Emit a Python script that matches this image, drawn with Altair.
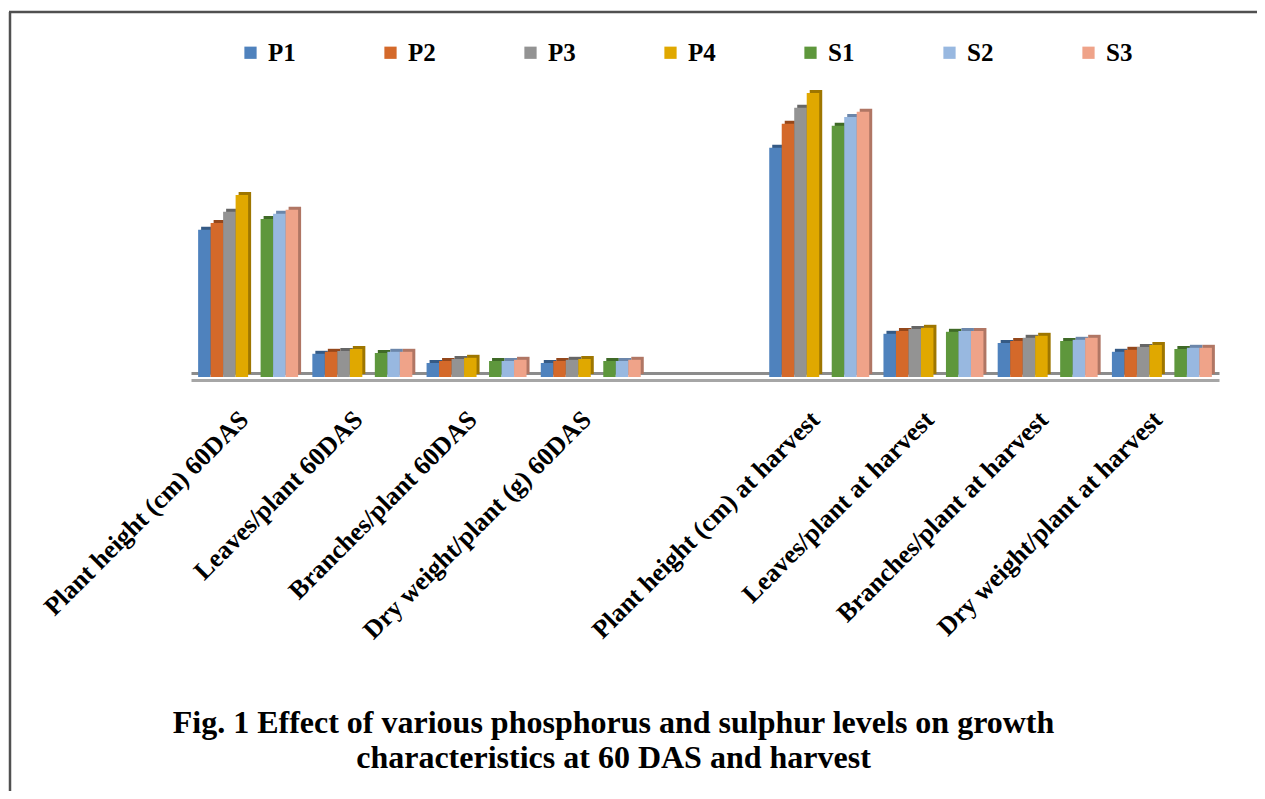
import altair as alt
import pandas as pd

# ---------------- data ----------------
categories = [
    "Plant height (cm) 60DAS", "Leaves/plant 60DAS", "Branches/plant 60DAS",
    "Dry weight/plant (g) 60DAS", " ", "Plant height (cm) at harvest",
    "Leaves/plant at harvest", "Branches/plant at harvest", "Dry weight/plant at harvest",
]
data_categories = [c for c in categories if c.strip()]
series = ["P1", "P2", "P3", "P4", "S1", "S2", "S3"]
slots = ["P1", "P2", "P3", "P4", "gap", "S1", "S2", "S3"]

P1 = [36.8, 5.8, 3.5, 3.5, 57.3, 10.8, 8.5, 6.3]
P2 = [38.5, 6.3, 4.0, 4.0, 63.3, 11.5, 9.0, 6.8]
P3 = [41.3, 6.5, 4.5, 4.3, 67.3, 12.0, 9.8, 7.5]
P4 = [45.5, 7.0, 4.8, 4.5, 71.0, 12.3, 10.3, 8.0]
S1 = [39.5, 6.0, 4.0, 4.0, 62.8, 11.3, 9.0, 7.0]
S2 = [40.8, 6.3, 4.0, 4.0, 65.0, 11.5, 9.3, 7.3]
S3 = [41.8, 6.3, 4.3, 4.3, 66.3, 11.5, 9.8, 7.3]

front_colors = ["#4F82BD", "#D4692A", "#939393", "#E0A800", "#5E973C", "#98B8E0", "#EFA389"]
# side/top shading, one per slot (gap slot unused)
side_colors = ["#355A85", "#94471B", "#666666", "#9E7600", "#FFFFFF", "#3F6A27", "#6B86AA", "#B07664"]

title_lines = [
    "Fig. 1 Effect of various phosphorus and sulphur levels on growth",
    "characteristics at 60 DAS and harvest",
]

values = {"P1": P1, "P2": P2, "P3": P3, "P4": P4, "S1": S1, "S2": S2, "S3": S3}
rows = []
for s in series:
    for c, v in zip(data_categories, values[s]):
        rows.append({"category": c, "series": s, "value": v})
df = pd.DataFrame(rows)
one = pd.DataFrame({"k": [0]})

# ---------------- chart ----------------
W, H = 1028, 300
FONT = "Liberation Serif"
BAND = W / len(categories)
DEPTH = 3

x_scale = alt.Scale(domain=categories, paddingInner=0, paddingOuter=0)
y_scale = alt.Scale(domain=[0, 75])

x_enc = alt.X(
    "category:N", scale=x_scale,
    axis=alt.Axis(
        title=title_lines, titleFont=FONT, titleFontWeight="bold", titleFontSize=32,
        titleColor="black", titleLineHeight=35, titleX=422, titleY=327,
        titleAlign="center", titleBaseline="top", titleLimit=1200,
        labelAngle=-45, labelAlign="right", labelBaseline="top",
        labelPadding=26, labelOffset=-13, offset=3, ticks=False, domain=True,
        domainColor="#A6A6A6", domainWidth=3, labelFont=FONT,
        labelFontWeight="bold", labelFontSize=26, labelColor="black",
        labelLimit=500, labelOverlap=False, grid=False,
    ),
)
y_front = alt.Y(
    "value:Q", scale=y_scale,
    axis=alt.Axis(
        title=None, labels=False, ticks=False, domain=False, grid=True,
        values=[1], gridColor="#8C8C8C", gridWidth=3,
    ),
)
y_side = alt.Y("value:Q", scale=y_scale)

base = alt.Chart(df)

side = base.mark_bar(yOffset=-DEPTH).encode(
    x=x_enc,
    xOffset=alt.XOffset(
        "series:N",
        scale=alt.Scale(domain=slots, paddingInner=0, paddingOuter=0.57,
                        range=[DEPTH, BAND + DEPTH]),
    ),
    y=y_side,
    fill=alt.Fill("series:N", scale=alt.Scale(domain=slots, range=side_colors), legend=None),
)
front = base.mark_bar().encode(
    x=x_enc,
    xOffset=alt.XOffset(
        "series:N",
        scale=alt.Scale(domain=slots, paddingInner=0, paddingOuter=0.57, range=[0, BAND]),
    ),
    y=y_front,
    color=alt.Color(
        "series:N", scale=alt.Scale(domain=series, range=front_colors),
        legend=alt.Legend(
            title=None, orient="none", legendX=47, legendY=-37, direction="horizontal",
            symbolType="square", symbolSize=150, symbolStrokeWidth=0,
            labelFont=FONT, labelFontWeight="bold", labelFontSize=25, labelColor="black",
            labelOffset=5, columnPadding=82, padding=0,
        ),
    ),
)

frame_left = alt.Chart(one).mark_rule(color="#505050", strokeWidth=2.5).encode(
    x=alt.value(-181), y=alt.value(-65), y2=alt.value(720)
)
frame_top = alt.Chart(one).mark_rule(color="#505050", strokeWidth=2.5).encode(
    x=alt.value(-182), x2=alt.value(1070), y=alt.value(-65)
)

chart = (
    alt.layer(side, front, frame_left, frame_top)
    .resolve_scale(xOffset="independent")
    .properties(
        width=W, height=H,
        autosize=alt.AutoSizeParams(type="none"),
        padding={"left": 183, "top": 69, "right": 38, "bottom": 414},
    )
    .configure_view(stroke="transparent", strokeWidth=0)
)

chart.save("out.html", embed_options={"renderer": "svg", "actions": False})
